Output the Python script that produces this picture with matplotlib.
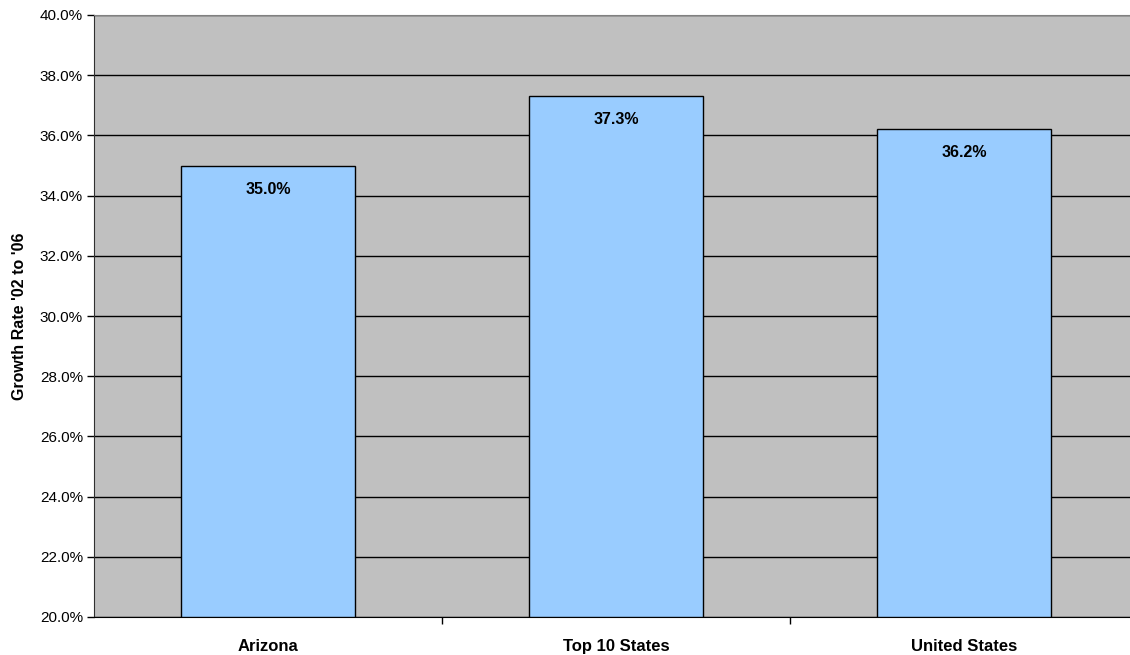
import matplotlib.pyplot as plt
from matplotlib.ticker import FuncFormatter, FixedLocator

categories = ["Arizona", "Top 10 States", "United States"]
growth = [35.0, 37.3, 36.2]
labels = ["35.0%", "37.3%", "36.2%"]
y_ticks = [20, 22, 24, 26, 28, 30, 32, 34, 36, 38, 40]

plt.rcParams["font.family"] = ["Liberation Sans", "DejaVu Sans"]

fig = plt.figure(figsize=(11.3, 6.55), dpi=100)
# plot area runs slightly past the right edge, as in the original
ax = fig.add_axes([94 / 1130, 38 / 655, 1044 / 1130, 602 / 655])
ax.set_facecolor("#C0C0C0")

x = list(range(len(categories)))
ax.bar(x, [g - 20 for g in growth], bottom=20, width=0.5,
       color="#99CCFF", edgecolor="black", linewidth=1.0, zorder=3)

for xi, g, lab in zip(x, growth, labels):
    ax.annotate(lab, (xi, g), xytext=(0, -17), textcoords="offset points",
                ha="center", va="center", fontsize=11.5, fontweight="bold",
                color="black", zorder=4)

ax.set_xlim(-0.5, len(categories) - 0.5)
ax.set_ylim(20, 40)
ax.set_yticks(y_ticks)
ax.yaxis.set_major_formatter(FuncFormatter(lambda v, p: f"{v:.1f}%"))
ax.tick_params(axis="y", labelsize=11, length=5, width=1, color="black", pad=3)
ax.grid(axis="y", color="black", linewidth=1.0, zorder=1)

ax.set_xticks(x)
ax.set_xticklabels(categories, fontsize=12, fontweight="bold")
ax.tick_params(axis="x", length=0, pad=16)
ax.xaxis.set_minor_locator(FixedLocator([0.5, 1.5]))
ax.tick_params(axis="x", which="minor", length=5, width=1, color="black")

ax.set_ylabel("Growth Rate '02 to '06", fontsize=11.5, fontweight="bold", labelpad=9)

ax.spines["top"].set_color("#808080")
ax.spines["left"].set_color("#303030")
ax.spines["bottom"].set_color("black")
ax.spines["right"].set_visible(False)

fig.savefig("out.png", dpi=100)
